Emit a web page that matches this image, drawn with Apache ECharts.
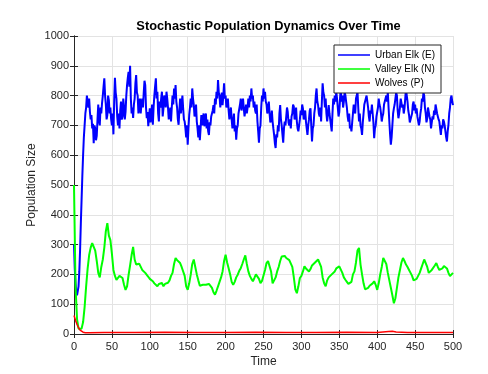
<!DOCTYPE html>
<html>
<head>
<meta charset="utf-8">
<script src="https://cdn.jsdelivr.net/npm/echarts@6.0.0/dist/echarts.min.js"></script>
<style>
  body { margin: 0; background: #fff; }
  #chart { width: 488px; height: 374px; }
</style>
</head>
<body>
<div id="chart"></div>
<script>
// urban elk: one sample per time unit, t = 0..500
const urbanElk = [
  300, 220, 170, 140, 130, 135, 160, 210, 280, 370,
  450, 530, 600, 660, 700, 740, 760, 800, 805, 760,
  790, 745, 720, 735, 690, 705, 640, 700, 690, 650,
  665, 720, 770, 715, 700, 760, 740, 775, 800, 830,
  858, 800, 770, 720, 735, 800, 785, 740, 760, 720,
  700, 740, 670, 780, 860, 810, 790, 730, 700, 740,
  690, 750, 780, 720, 730, 790, 760, 720, 745, 800,
  835, 860, 880, 830, 900, 790, 740, 760, 725, 770,
  790, 840, 869, 810, 800, 740, 765, 790, 740, 770,
  790, 760, 810, 850, 835, 760, 724, 745, 697, 730,
  757, 710, 740, 770, 702, 760, 800, 830, 858, 790,
  813, 740, 713, 780, 760, 790, 813, 730, 757, 800,
  790, 760, 813, 790, 760, 720, 735, 760, 713, 760,
  800, 770, 824, 790, 835, 780, 760, 720, 702, 750,
  790, 740, 770, 800, 757, 720, 713, 690, 660, 700,
  635, 690, 735, 760, 790, 760, 824, 790, 770, 730,
  740, 770, 713, 690, 660, 700, 650, 690, 735, 700,
  700, 740, 697, 720, 740, 690, 720, 680, 668, 710,
  700, 730, 724, 750, 768, 740, 790, 770, 813, 790,
  852, 810, 800, 760, 790, 810, 768, 800, 841, 790,
  800, 760, 768, 790, 750, 720, 745, 760, 720, 690,
  713, 740, 680, 700, 652, 690, 700, 740, 745, 770,
  790, 750, 770, 790, 757, 730, 735, 770, 740, 760,
  790, 760, 800, 780, 824, 790, 800, 760, 780, 750,
  740, 770, 713, 680, 642, 690, 700, 760, 800, 780,
  824, 790, 813, 780, 770, 740, 757, 780, 740, 710,
  720, 750, 713, 690, 668, 640, 624, 670, 660, 700,
  680, 740, 768, 720, 700, 670, 642, 690, 713, 700,
  730, 760, 745, 710, 700, 720, 690, 730, 740, 770,
  763, 720, 730, 760, 713, 690, 680, 700, 720, 750,
  735, 770, 757, 720, 730, 750, 713, 690, 668, 700,
  720, 750, 757, 700, 646, 690, 700, 740, 760, 800,
  824, 780, 768, 740, 730, 760, 713, 780, 841, 810,
  800, 760, 790, 740, 713, 740, 768, 740, 720, 700,
  680, 740, 790, 770, 800, 780, 813, 790, 760, 730,
  745, 790, 824, 780, 800, 760, 780, 810, 802, 780,
  760, 730, 713, 740, 690, 700, 680, 710, 740, 770,
  768, 740, 790, 800, 813, 760, 713, 740, 700, 690,
  668, 710, 740, 770, 768, 790, 800, 780, 760, 730,
  713, 750, 740, 770, 768, 710, 657, 690, 700, 730,
  735, 760, 790, 770, 760, 740, 713, 730, 740, 770,
  768, 790, 800, 780, 813, 760, 713, 670, 635, 660,
  700, 740, 757, 770, 790, 810, 800, 750, 724, 740,
  760, 790, 790, 760, 770, 740, 757, 790, 824, 800,
  780, 750, 735, 710, 713, 730, 740, 770, 780, 750,
  770, 740, 757, 730, 730, 700, 713, 740, 757, 790,
  780, 810, 800, 760, 740, 710, 724, 760, 757, 730,
  720, 690, 690, 730, 720, 750, 735, 770, 768, 740,
  740, 720, 713, 690, 668, 700, 690, 720, 713, 700,
  680, 660, 646, 680, 702, 740, 760, 790, 800, 780,
  768
];
// valley elk: one sample per 2 time units, t = 0..500
const valleyElk = [
  500, 160, 50, 18, 12, 18, 40, 90, 160, 220,
  265, 290, 305, 310, 280, 245, 205, 190, 225, 250,
  290, 345, 372, 330, 315, 270, 215, 195, 182, 185,
  195, 198, 188, 165, 148, 160, 198, 230, 265, 292,
  250, 233, 228, 236, 230, 215, 210, 205, 200, 192,
  185, 180, 177, 170, 165, 160, 168, 172, 171, 160,
  168, 165, 172, 180, 195, 205, 235, 255, 248, 244,
  238, 225, 221, 195, 160, 148, 170, 199, 235, 250,
  225, 200, 180, 162, 160, 165, 168, 165, 170, 168,
  163, 155, 140, 132, 145, 160, 165, 190, 210, 245,
  266, 240, 221, 200, 175, 165, 175, 190, 199, 212,
  221, 235, 250, 264, 235, 210, 195, 185, 177, 188,
  200, 205, 185, 171, 178, 182, 215, 238, 245, 250,
  210, 170, 165, 190, 210, 225, 245, 260, 255, 262,
  255, 250, 248, 244, 225, 190, 150, 137, 160, 188,
  195, 210, 227, 220, 215, 210, 218, 230, 233, 240,
  245, 250, 255, 225, 190, 170, 160, 180, 190, 194,
  200, 205, 210, 220, 225, 227, 225, 205, 190, 182,
  175, 168, 165, 175, 200, 210, 240, 280, 289, 233,
  200, 170, 150, 148, 155, 162, 165, 170, 177, 165,
  148, 170, 200, 225, 255, 260, 235, 205, 180, 155,
  130, 103, 120, 155, 190, 215, 240, 255, 245, 233,
  225, 215, 205, 195, 180, 177, 185, 195, 205, 220,
  235, 250, 255, 225, 205, 199, 215, 221, 230, 238,
  225, 215, 210, 220, 228, 233, 220, 205, 194, 190,
  205
];
const wolvesTime = [0, 2, 4, 6, 8, 10, 12, 15, 20, 40, 80, 120, 160, 200, 240, 280, 320, 360, 400, 415, 420, 425, 440, 480, 500];
const wolves = [62, 46, 32, 21, 13, 8, 6, 4, 4, 5, 5, 6, 5, 5, 6, 5, 5, 6, 5, 8, 9, 7, 5, 5, 5];

const xTicks = { min: 0, max: 500, interval: 50 };
const yTicks = { min: 0, max: 1000, interval: 100 };

function pairs(values, step) {
  return values.map((v, i) => [i * step, v]);
}

let dom = document.getElementById("chart");
let myChart = echarts.init(dom, null, { renderer: "canvas" });

let ink = "#262626";
let font = "Liberation Sans, Arial, Helvetica, sans-serif";

let boxAxis = {
  axisLine: { show: true, lineStyle: { color: ink, width: 1 } },
  axisTick: { show: true, inside: true, length: 4, lineStyle: { color: ink } },
  axisLabel: { show: false },
  splitLine: { show: false }
};

let option = {
  backgroundColor: "#fff",
  animation: false,
  textStyle: { fontFamily: font },
  title: {
    text: "Stochastic Population Dynamics Over Time",
    left: 263.5,
    textAlign: "center",
    top: 15,
    textStyle: { fontSize: 12.8, fontWeight: "bold", color: "#000", fontFamily: font }
  },
  legend: {
    orient: "vertical",
    left: 334,
    top: 45,
    padding: [3, 6, 3, 4],
    itemGap: 0,
    itemWidth: 32,
    itemHeight: 1.5,
    icon: "rect",
    backgroundColor: "#fff",
    borderColor: ink,
    borderWidth: 1,
    textStyle: { fontSize: 10, lineHeight: 14, color: "#000", fontFamily: font },
    data: ["Urban Elk (E)", "Valley Elk (N)", "Wolves (P)"]
  },
  grid: { left: 74, right: 35, top: 36, bottom: 40 },
  xAxis: [
    {
      type: "value",
      min: xTicks.min,
      max: xTicks.max,
      interval: xTicks.interval,
      name: "Time",
      nameLocation: "middle",
      nameGap: 22,
      nameMoveOverlap: false,
      nameTextStyle: { fontSize: 12, color: ink },
      axisLine: { show: true, lineStyle: { color: ink } },
      axisTick: { inside: true, length: 4, lineStyle: { color: ink } },
      axisLabel: { fontSize: 11, color: ink, margin: 7, formatter: v => String(v) },
      splitLine: { show: true, lineStyle: { color: "#e3e3e3" } }
    },
    Object.assign({ type: "value", position: "top", min: xTicks.min, max: xTicks.max, interval: xTicks.interval }, boxAxis)
  ],
  yAxis: [
    {
      type: "value",
      min: yTicks.min,
      max: yTicks.max,
      interval: yTicks.interval,
      name: "Population Size",
      nameLocation: "middle",
      nameGap: 36,
      nameMoveOverlap: false,
      nameTextStyle: { fontSize: 12, color: ink },
      axisLine: { show: true, lineStyle: { color: ink } },
      axisTick: { show: true, inside: true, length: 4, lineStyle: { color: ink } },
      axisLabel: { fontSize: 11, color: ink, margin: 5, formatter: v => String(v) },
      splitLine: { show: true, lineStyle: { color: "#e3e3e3" } }
    },
    Object.assign({ type: "value", position: "right", min: yTicks.min, max: yTicks.max, interval: yTicks.interval }, boxAxis)
  ],
  series: [
    {
      name: "Urban Elk (E)",
      type: "line",
      symbol: "none",
      color: "#0000ff",
      lineStyle: { width: 2 },
      data: pairs(urbanElk, 1)
    },
    {
      name: "Valley Elk (N)",
      type: "line",
      symbol: "none",
      color: "#00ff00",
      lineStyle: { width: 2 },
      data: pairs(valleyElk, 2)
    },
    {
      name: "Wolves (P)",
      type: "line",
      symbol: "none",
      color: "#ff0000",
      lineStyle: { width: 1.5 },
      data: wolvesTime.map((t, i) => [t, wolves[i]])
    }
  ]
};

myChart.setOption(option, true);
</script>
</body>
</html>
